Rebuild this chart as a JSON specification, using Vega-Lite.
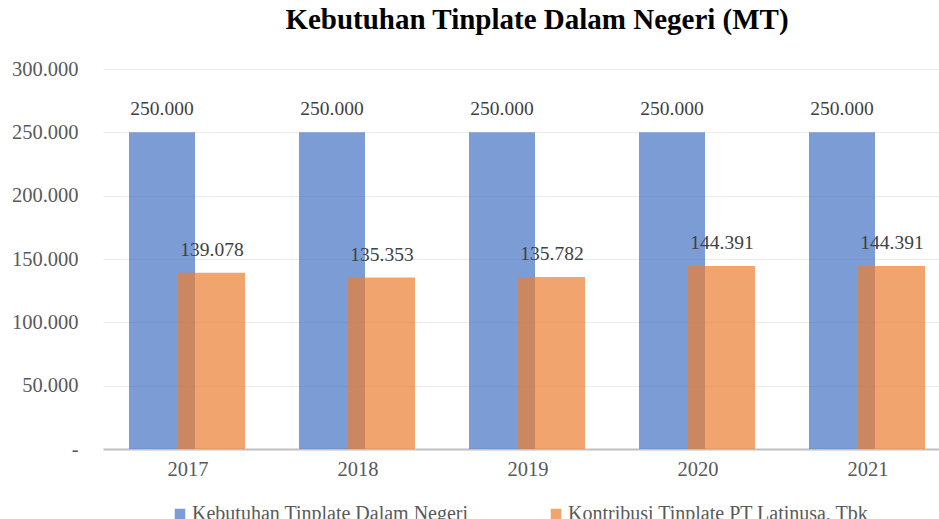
{
  "$schema": "https://vega.github.io/schema/vega-lite/v6.json",
  "width": 836,
  "height": 380,
  "autosize": {"type": "none"},
  "padding": {"left": 103, "top": 69, "right": 0, "bottom": 70},
  "background": "white",
  "title": {
    "text": "Kebutuhan Tinplate Dalam Negeri (MT)",
    "font": "Liberation Serif",
    "fontSize": 29,
    "fontWeight": "bold",
    "color": "#000000",
    "anchor": "middle",
    "frame": "group",
    "offset": 1,
    "baseline": "alphabetic",
    "dx": 16
  },
  "data": {
    "values": [
      {"year": "2017", "series": "Kebutuhan Tinplate Dalam Negeri", "value": 250000},
      {"year": "2018", "series": "Kebutuhan Tinplate Dalam Negeri", "value": 250000},
      {"year": "2019", "series": "Kebutuhan Tinplate Dalam Negeri", "value": 250000},
      {"year": "2020", "series": "Kebutuhan Tinplate Dalam Negeri", "value": 250000},
      {"year": "2021", "series": "Kebutuhan Tinplate Dalam Negeri", "value": 250000},
      {"year": "2017", "series": "Kontribusi Tinplate PT Latinusa, Tbk", "value": 139078},
      {"year": "2018", "series": "Kontribusi Tinplate PT Latinusa, Tbk", "value": 135353},
      {"year": "2019", "series": "Kontribusi Tinplate PT Latinusa, Tbk", "value": 135782},
      {"year": "2020", "series": "Kontribusi Tinplate PT Latinusa, Tbk", "value": 144391},
      {"year": "2021", "series": "Kontribusi Tinplate PT Latinusa, Tbk", "value": 144391}
    ]
  },
  "encoding": {
    "x": {
      "field": "year",
      "type": "nominal",
      "scale": {"range": [0, 850], "paddingInner": 0, "paddingOuter": 0},
      "axis": {
        "title": null,
        "labelAngle": 0,
        "ticks": false,
        "domainColor": "#c0c0c0",
        "domainWidth": 2,
        "labelFont": "Liberation Serif",
        "labelFontSize": 20.5,
        "labelColor": "#595959",
        "labelPadding": 10
      }
    },
    "y": {
      "field": "value",
      "type": "quantitative",
      "scale": {"domain": [0, 300000], "nice": false},
      "axis": {
        "title": null,
        "values": [0, 50000, 100000, 150000, 200000, 250000, 300000],
        "format": ",.0f",
        "labelExpr": "datum.value == 0 ? '-' : datum.label",
        "domain": false,
        "ticks": false,
        "gridColor": "#ececec",
        "gridWidth": 1,
        "labelFont": "Liberation Serif",
        "labelFontSize": 20.5,
        "labelColor": "#595959",
        "labelPadding": 25
      }
    }
  },
  "layer": [
    {
      "transform": [{"filter": "datum.series == 'Kebutuhan Tinplate Dalam Negeri'"}],
      "mark": {"type": "bar", "width": 66, "xOffset": -26, "fillOpacity": 0.7},
      "encoding": {
        "color": {
          "field": "series",
          "type": "nominal",
          "scale": {
            "domain": ["Kebutuhan Tinplate Dalam Negeri", "Kontribusi Tinplate PT Latinusa, Tbk"],
            "range": ["#4472C4", "#ED7D31"]
          },
          "legend": {
            "title": null,
            "orient": "none",
            "legendX": 67,
            "legendY": 435,
            "direction": "horizontal",
            "symbolType": "square",
            "symbolSize": 110,
            "symbolOpacity": 0.7,
            "symbolStrokeWidth": 0,
            "labelFont": "Liberation Serif",
            "labelFontSize": 20,
            "labelColor": "#595959",
            "labelLimit": 400,
            "labelOffset": 2,
            "columnPadding": 77
          }
        }
      }
    },
    {
      "transform": [{"filter": "datum.series == 'Kontribusi Tinplate PT Latinusa, Tbk'"}],
      "mark": {"type": "bar", "width": 67, "xOffset": 23.5, "fillOpacity": 0.7},
      "encoding": {
        "color": {"field": "series", "type": "nominal"}
      }
    },
    {
      "transform": [{"filter": "datum.series == 'Kebutuhan Tinplate Dalam Negeri'"}],
      "mark": {"type": "text", "dx": -26, "dy": -13, "baseline": "bottom", "font": "Liberation Serif", "fontSize": 19.5, "color": "#404040"},
      "encoding": {
        "text": {"field": "value", "type": "quantitative", "format": ",.0f"}
      }
    },
    {
      "transform": [{"filter": "datum.series == 'Kontribusi Tinplate PT Latinusa, Tbk'"}],
      "mark": {"type": "text", "dx": 24, "dy": -13, "baseline": "bottom", "font": "Liberation Serif", "fontSize": 19.5, "color": "#404040"},
      "encoding": {
        "text": {"field": "value", "type": "quantitative", "format": ",.0f"}
      }
    }
  ],
  "config": {
    "view": {"stroke": null},
    "locale": {
      "number": {"decimal": ",", "thousands": ".", "grouping": [3], "currency": ["", ""]}
    }
  }
}
